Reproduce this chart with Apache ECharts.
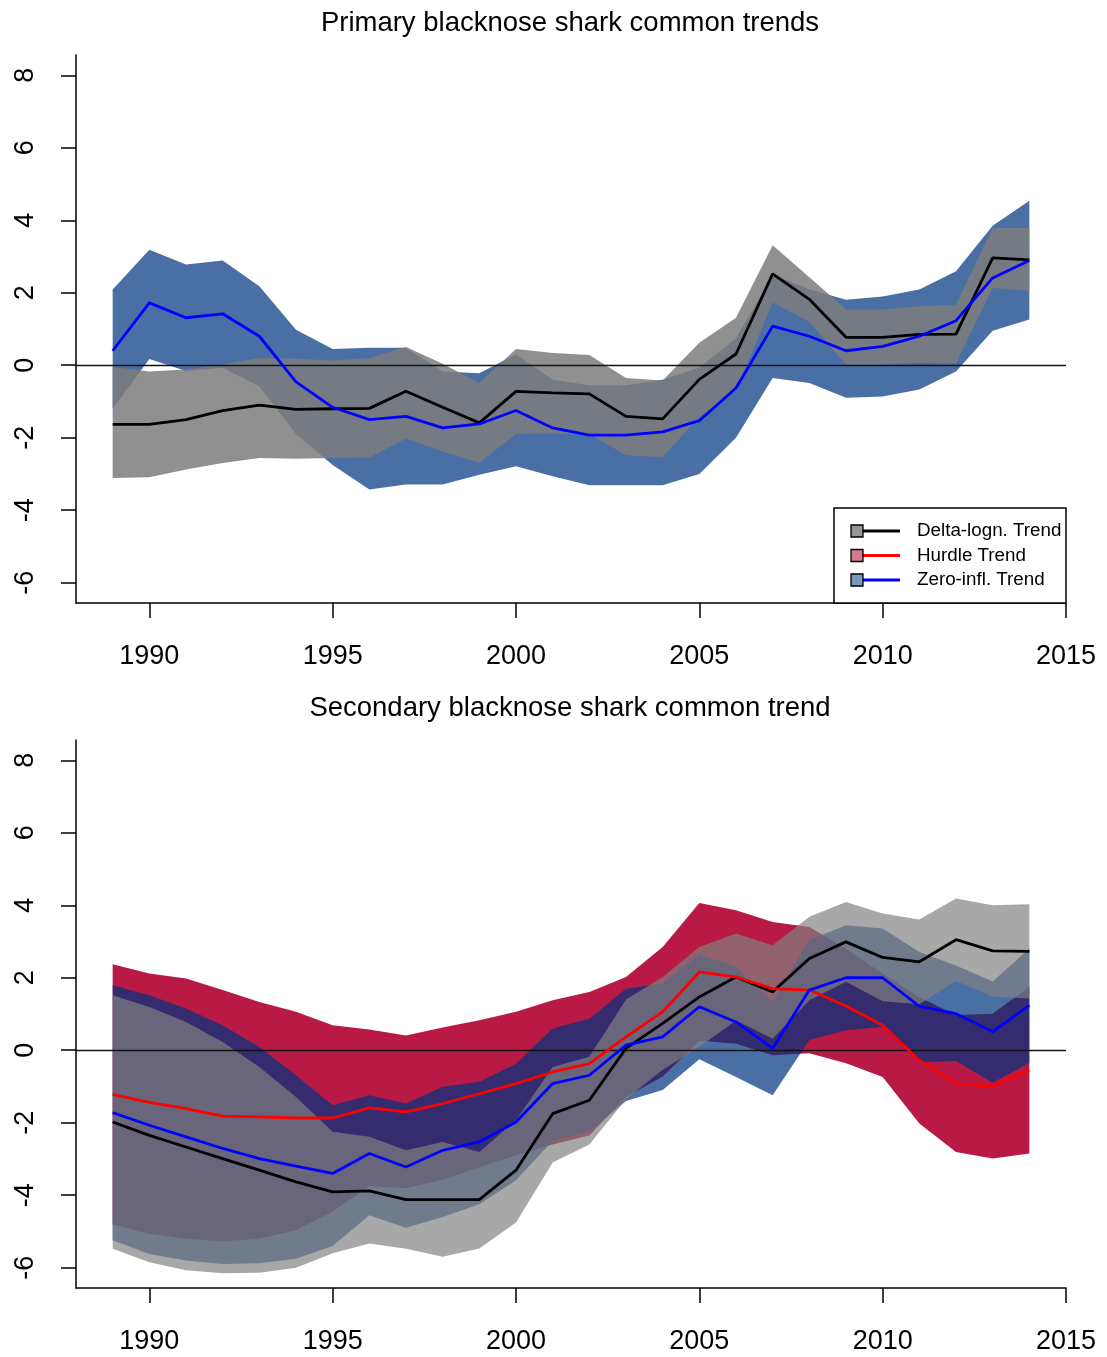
<!DOCTYPE html>
<html>
<head>
<meta charset="utf-8">
<title>Blacknose shark common trends</title>
<script src="https://cdn.jsdelivr.net/npm/echarts@6/dist/echarts.min.js"></script>
<style>
  html, body { margin: 0; padding: 0; background: #fff; }
  #chart { width: 1107px; height: 1357px; }
</style>
</head>
<body>
<div id="chart"></div>
<script>
// Years of the common trends
const years = [1989,1990,1991,1992,1993,1994,1995,1996,1997,1998,1999,2000,2001,
               2002,2003,2004,2005,2006,2007,2008,2009,2010,2011,2012,2013,2014];

// Axis ticks
const xTicks = [1990, 1995, 2000, 2005, 2010, 2015];
const yTicks = [-6, -4, -2, 0, 2, 4, 6, 8];

// Primary common trend: delta-lognormal model
const priDeltaMean  = [-1.63,-1.63,-1.50,-1.25,-1.10,-1.22,-1.20,-1.19,-0.72,-1.16,-1.59,-0.72,-0.76,-0.79,-1.41,-1.48,-0.39,0.31,2.52,1.82,0.77,0.77,0.85,0.86,2.96,2.91];
const priDeltaUpper = [-0.05,-0.17,-0.12,0.02,0.20,0.18,0.13,0.20,0.50,0.04,-0.49,0.45,0.34,0.28,-0.35,-0.42,0.62,1.31,3.31,2.43,1.54,1.54,1.63,1.67,3.79,3.79];
const priDeltaLower = [-3.11,-3.09,-2.88,-2.70,-2.56,-2.58,-2.56,-2.55,-2.02,-2.38,-2.69,-1.90,-1.88,-1.90,-2.48,-2.54,-1.42,-0.70,1.73,1.20,0.02,0.02,0.07,0.05,2.13,2.05];

// Primary common trend: zero-inflated model
const priZeroMean  = [0.40,1.72,1.31,1.42,0.80,-0.46,-1.16,-1.50,-1.41,-1.73,-1.62,-1.25,-1.73,-1.93,-1.93,-1.84,-1.53,-0.63,1.08,0.80,0.40,0.52,0.80,1.23,2.41,2.89];
const priZeroUpper = [2.09,3.19,2.78,2.89,2.18,0.98,0.45,0.48,0.48,-0.17,-0.22,0.30,-0.40,-0.55,-0.55,-0.40,-0.06,0.74,2.50,2.10,1.81,1.90,2.09,2.59,3.85,4.54];
const priZeroLower = [-1.20,0.17,-0.16,-0.07,-0.58,-1.90,-2.75,-3.43,-3.29,-3.29,-3.02,-2.79,-3.06,-3.31,-3.31,-3.31,-3.00,-2.00,-0.35,-0.49,-0.90,-0.86,-0.67,-0.17,0.95,1.26];

// Secondary common trend: delta-lognormal model
const secDeltaMean  = [-1.98,-2.35,-2.67,-2.99,-3.31,-3.63,-3.91,-3.88,-4.12,-4.12,-4.12,-3.31,-1.75,-1.38,0.05,0.74,1.47,2.02,1.61,2.53,2.99,2.56,2.44,3.05,2.74,2.73];
const secDeltaUpper = [1.52,1.19,0.78,0.23,-0.46,-1.29,-2.25,-2.39,-2.76,-2.53,-2.81,-1.93,-0.46,-0.18,1.40,2.02,2.85,3.22,2.90,3.68,4.09,3.77,3.61,4.19,4.00,4.03];
const secDeltaLower = [-5.48,-5.85,-6.07,-6.15,-6.14,-6.00,-5.60,-5.33,-5.48,-5.70,-5.47,-4.75,-3.10,-2.60,-1.35,-0.54,0.09,0.82,0.32,1.38,1.89,1.35,1.27,1.91,1.48,1.43];

// Secondary common trend: hurdle model
const secHurdleMean  = [-1.22,-1.44,-1.61,-1.82,-1.84,-1.87,-1.87,-1.59,-1.70,-1.47,-1.20,-0.92,-0.60,-0.37,0.37,1.06,2.16,2.02,1.70,1.66,1.22,0.69,-0.28,-0.92,-0.99,-0.55];
const secHurdleUpper = [2.37,2.12,1.98,1.66,1.33,1.06,0.69,0.57,0.41,0.63,0.83,1.06,1.38,1.61,2.02,2.85,4.06,3.86,3.54,3.40,2.80,2.12,1.46,0.97,1.01,1.75];
const secHurdleLower = [-4.81,-5.06,-5.20,-5.28,-5.20,-4.97,-4.45,-3.75,-3.81,-3.57,-3.23,-2.90,-2.60,-2.35,-1.28,-0.73,0.26,0.18,-0.14,-0.08,-0.36,-0.74,-2.02,-2.81,-2.99,-2.85];

// Secondary common trend: zero-inflated model
const secZeroMean  = [-1.72,-2.07,-2.39,-2.71,-2.99,-3.20,-3.40,-2.85,-3.22,-2.76,-2.53,-1.98,-0.92,-0.69,0.14,0.37,1.20,0.78,0.05,1.66,2.00,2.00,1.21,1.01,0.51,1.24];
const secZeroUpper = [1.79,1.52,1.15,0.69,0.09,-0.69,-1.52,-1.24,-1.47,-1.01,-0.87,-0.37,0.60,0.87,1.70,1.85,2.65,2.30,1.34,3.04,3.45,3.36,2.71,2.34,1.90,2.80];
const secZeroLower = [-5.24,-5.62,-5.80,-5.90,-5.88,-5.75,-5.40,-4.55,-4.90,-4.60,-4.25,-3.59,-2.50,-2.25,-1.40,-1.10,-0.25,-0.74,-1.24,0.28,0.55,0.64,-0.33,-0.30,-0.90,-0.35];

// Titles and legend entries
const panelTitles = ['Primary blacknose shark common trends', 'Secondary blacknose shark common trend'];
const legendNames = ['Delta-logn. Trend', 'Hurdle Trend', 'Zero-infl. Trend'];

const FONT = '"Liberation Sans", Arial, Helvetica, sans-serif';
const GRID_LEFT = 76, GRID_W = 990, GRID_H = 548;
const gridTops = [55, 740];

const chart = echarts.init(document.getElementById('chart'), null, { renderer: 'canvas' });

function xAxisFor(i) {
  return {
    type: 'value', gridIndex: i, min: 1988, max: 2015,
    axisLine: { show: true, onZero: false, lineStyle: { color: '#000', width: 1.5 } },
    axisTick: { show: true, length: 15, customValues: xTicks, lineStyle: { color: '#000', width: 1.5 } },
    axisLabel: { customValues: xTicks, fontSize: 27, fontFamily: FONT, color: '#000', margin: 40,
                 formatter: v => String(v) },
    splitLine: { show: false }
  };
}
function yAxisFor(i) {
  return {
    type: 'value', gridIndex: i, min: -6.56, max: 8.56,
    axisLine: { show: true, onZero: false, lineStyle: { color: '#000', width: 1.5 } },
    axisTick: { show: true, length: 15, customValues: yTicks, lineStyle: { color: '#000', width: 1.5 } },
    axisLabel: { customValues: yTicks, rotate: 90, fontSize: 27, fontFamily: FONT, color: '#000', margin: 37,
                 formatter: v => String(v) },
    splitLine: { show: false }
  };
}

// Confidence band drawn as one polygon through the axis scales
function band(gridIdx, lower, upper, fill, z) {
  return {
    type: 'custom', xAxisIndex: gridIdx, yAxisIndex: gridIdx, silent: true, z: z,
    data: years.map((y, i) => [y, lower[i], upper[i]]),
    encode: { x: 0, y: [1, 2] },
    renderItem: function (params, api) {
      if (params.dataIndex !== 0) return;
      const pts = [];
      for (let i = 0; i < years.length; i++) pts.push(api.coord([years[i], upper[i]]));
      for (let i = years.length - 1; i >= 0; i--) pts.push(api.coord([years[i], lower[i]]));
      return { type: 'polygon', shape: { points: pts }, style: { fill: fill } };
    }
  };
}

function trend(gridIdx, name, values, color, z, withZeroLine) {
  const s = {
    type: 'line', name: name, xAxisIndex: gridIdx, yAxisIndex: gridIdx, z: z,
    data: years.map((y, i) => [y, values[i]]),
    symbol: 'none', silent: true, animation: false,
    lineStyle: { color: color, width: 2.8 }
  };
  if (withZeroLine) {
    s.markLine = {
      silent: true, symbol: 'none', animation: false,
      label: { show: false },
      lineStyle: { color: '#111', width: 1.3, type: 'solid' },
      data: [{ yAxis: 0 }]
    };
  }
  return s;
}

const BLUE_FILL = 'rgba(0,52,128,0.71)';
const RED_FILL = '#b81a45';
const GREY_FILL_TOP = 'rgba(125,125,125,0.85)';
const GREY_FILL_BOT = 'rgba(129,129,129,0.69)';

const series = [
  // primary panel
  band(0, priZeroLower, priZeroUpper, BLUE_FILL, 1),
  band(0, priDeltaLower, priDeltaUpper, GREY_FILL_TOP, 2),
  trend(0, legendNames[0], priDeltaMean, '#000000', 5, true),
  trend(0, legendNames[2], priZeroMean, '#0000ff', 6, false),
  // secondary panel
  band(1, secHurdleLower, secHurdleUpper, RED_FILL, 1),
  band(1, secZeroLower, secZeroUpper, BLUE_FILL, 2),
  band(1, secDeltaLower, secDeltaUpper, GREY_FILL_BOT, 3),
  trend(1, legendNames[0], secDeltaMean, '#000000', 5, true),
  trend(1, legendNames[1], secHurdleMean, '#ff0000', 6, false),
  trend(1, legendNames[2], secZeroMean, '#0000ff', 7, false)
];

// Legend box in the primary panel
const legendLine = ['#000000', '#ff0000', '#0000ff'];
const legendSwatch = ['#969696', '#d67a8f', '#7b96c0'];
const graphics = [];
panelTitles.forEach((t, i) => {
  graphics.push({
    type: 'text', x: GRID_LEFT + GRID_W / 2 - 1, y: gridTops[i] - 32, z: 10,
    style: { text: t, font: '27.5px ' + FONT, fill: '#000', align: 'center', verticalAlign: 'middle' }
  });
});
graphics.push({
  type: 'rect', z: 10,
  shape: { x: 834, y: 508, width: 232, height: 95 },
  style: { fill: '#fff', stroke: '#000', lineWidth: 1.5 }
});
legendNames.forEach((n, i) => {
  const cy = 531 + i * 24.5;
  graphics.push({ type: 'line', z: 11, shape: { x1: 863, y1: cy, x2: 900, y2: cy },
                  style: { stroke: legendLine[i], lineWidth: 2.8 } });
  graphics.push({ type: 'rect', z: 12, shape: { x: 851, y: cy - 6, width: 12, height: 12 },
                  style: { fill: legendSwatch[i], stroke: '#000', lineWidth: 1.3 } });
  graphics.push({ type: 'text', z: 12, x: 917, y: cy,
                  style: { text: n, font: '18.8px ' + FONT, fill: '#000', align: 'left', verticalAlign: 'middle' } });
});

chart.setOption({
  backgroundColor: '#ffffff',
  animation: false,
  grid: gridTops.map(t => ({ left: GRID_LEFT, top: t, width: GRID_W, height: GRID_H, containLabel: false })),
  xAxis: [xAxisFor(0), xAxisFor(1)],
  yAxis: [yAxisFor(0), yAxisFor(1)],
  series: series,
  graphic: graphics
});
</script>
</body>
</html>
